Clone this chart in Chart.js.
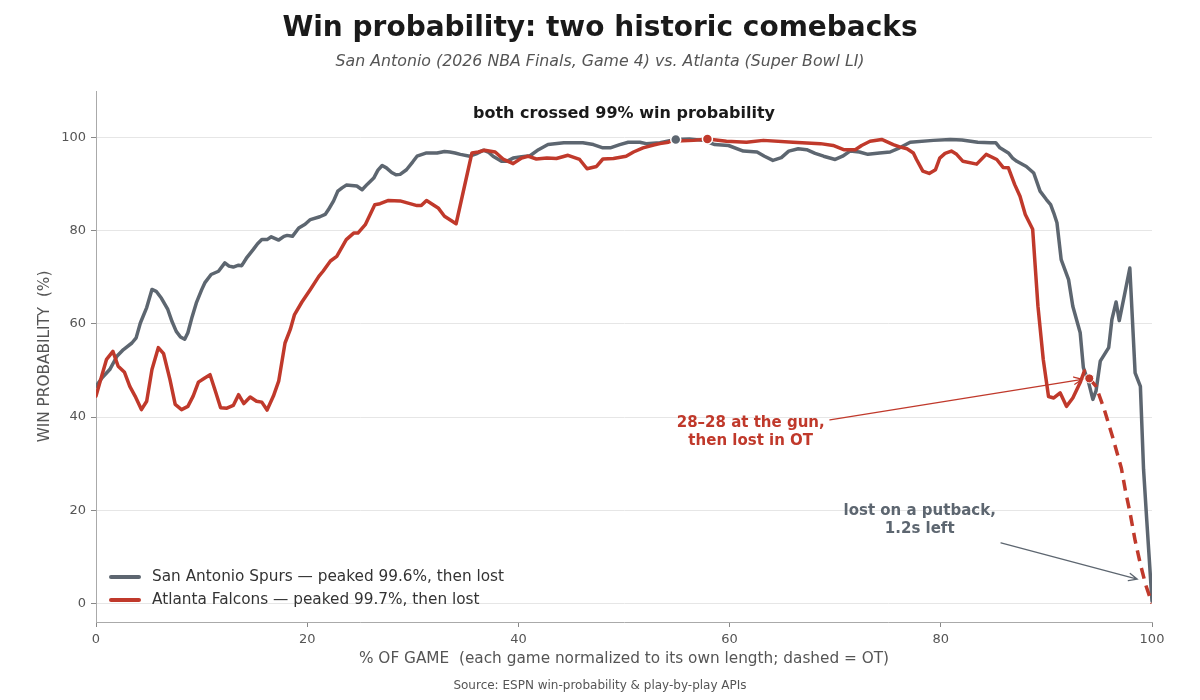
<!DOCTYPE html>
<html>
<head>
<meta charset="utf-8">
<script src="https://cdn.jsdelivr.net/npm/chart.js@4.4.1/dist/chart.umd.min.js"></script>
<style>
html,body{margin:0;padding:0;background:#ffffff;}
#wrap{width:1200px;height:700px;position:relative;}
</style>
</head>
<body>
<div id="wrap"><canvas id="c" width="1200" height="700"></canvas></div>
<script>
// ---------- DATA ----------
const spursLabel = "San Antonio Spurs \u2014 peaked 99.6%, then lost";
const falconsLabel = "Atlanta Falcons \u2014 peaked 99.7%, then lost";

const spursX = [0,0.6,1.3,2.0,2.6,3.4,3.8,4.2,4.8,5.3,5.7,6.2,6.8,7.2,7.6,8.0,8.4,8.7,9.1,9.5,10.0,10.3,10.9,11.6,12.2,12.6,13.0,13.5,13.8,14.3,14.9,15.3,15.7,16.2,16.6,17.3,17.8,18.1,18.6,19.2,19.8,20.3,21.2,21.7,22.0,22.5,22.9,23.3,23.7,24.2,24.7,25.2,25.7,26.3,26.7,27.1,27.5,28.0,28.4,28.8,29.4,30.0,30.4,31.3,32.3,33.0,33.5,34.0,34.5,35.4,36.0,36.7,37.2,37.6,38.4,38.9,39.5,40.3,41.1,41.9,42.8,44.3,46.1,47.1,48.0,48.7,49.6,50.4,51.5,52.1,53.4,54.9,56.2,57.5,58.6,59.9,61.3,62.6,63.3,64.1,64.9,65.6,66.5,67.3,68.1,68.9,70.0,70.7,71.4,72.3,73.1,74.2,75.2,76.1,77.1,79.3,80.9,82.0,83.5,84.7,85.2,85.6,86.4,86.8,87.2,88.1,88.8,89.4,90.0,90.4,90.7,91.0,91.4,92.1,92.5,93.2,93.5,94.0,94.4,94.7,95.1,95.9,96.2,96.6,96.9,97.4,97.9,98.4,98.9,99.2,99.5,100];
const spursY = [46.6,48.5,50.2,53.1,54.5,55.9,57.0,60.2,63.5,67.4,67.0,65.5,63.1,60.5,58.4,57.2,56.7,58.1,61.5,64.5,67.3,68.8,70.6,71.3,73.1,72.4,72.2,72.6,72.5,74.3,76.0,77.2,78.1,78.1,78.7,78.0,78.8,79.0,78.8,80.6,81.4,82.4,83.0,83.5,84.5,86.4,88.5,89.2,89.8,89.7,89.6,88.8,90.0,91.3,93.0,94.0,93.5,92.5,92.0,92.1,93.1,94.8,96.0,96.7,96.7,97.0,96.9,96.7,96.4,96.0,96.5,97.3,96.8,96.0,94.9,94.9,95.6,95.9,96.1,97.4,98.5,98.9,98.9,98.5,97.8,97.8,98.5,99.0,99.0,98.7,98.9,99.6,99.7,99.4,98.5,98.3,97.1,96.9,96.0,95.1,95.7,97.1,97.6,97.4,96.6,96.0,95.3,96.0,97.1,96.9,96.4,96.7,96.9,97.8,99.0,99.4,99.6,99.5,99.0,98.9,98.9,97.8,96.7,95.6,94.9,93.8,92.4,88.5,86.7,85.6,83.8,81.7,73.8,69.5,63.8,58.1,50.6,47.4,43.8,45.6,52.0,54.9,60.9,64.7,60.7,66.3,72.0,49.5,46.6,28.8,18.0,0.5];

const falconsX = [0,0.5,1.0,1.6,2.1,2.7,3.2,3.7,4.3,4.8,5.3,5.9,6.4,7.0,7.5,8.1,8.7,9.2,9.7,10.3,10.8,11.3,11.8,12.4,13.0,13.5,14.0,14.6,15.2,15.7,16.2,16.8,17.3,17.9,18.4,18.8,19.5,20.3,21.1,21.5,22.2,22.8,23.7,24.4,24.8,25.5,26.4,26.9,27.7,28.8,30.4,30.8,31.3,32.4,33.0,34.1,35.6,36.2,36.8,37.8,38.6,39.5,40.3,40.9,41.7,42.7,43.6,44.7,45.8,46.5,47.4,48.0,49.0,50.2,50.9,51.8,52.8,53.4,54.2,54.4,56.6,57.9,59.7,61.6,63.2,66.0,68.6,69.8,70.8,71.9,72.5,73.3,74.4,75.5,76.1,76.8,77.4,77.7,78.3,78.9,79.5,79.9,80.4,81.0,81.5,82.1,83.4,84.3,85.3,85.9,86.4,87.0,87.5,88.0,88.7,89.2,89.7,90.2,90.7,91.3,91.9,92.5,93.2,93.6];
const falconsY = [44.5,48.5,52.4,54.1,50.9,49.6,46.6,44.5,41.6,43.4,50.2,54.9,53.6,48.1,42.7,41.6,42.3,44.5,47.5,48.4,49.1,45.6,42.0,41.9,42.5,44.8,42.9,44.3,43.4,43.2,41.5,44.5,47.7,55.9,58.8,62.0,64.7,67.4,70.2,71.3,73.5,74.5,78.1,79.5,79.5,81.3,85.6,85.8,86.5,86.4,85.4,85.4,86.5,84.9,83.1,81.5,96.7,96.9,97.3,96.9,95.3,94.4,95.6,96.0,95.4,95.6,95.5,96.2,95.3,93.3,93.8,95.4,95.5,96.0,96.9,97.8,98.4,98.7,99.0,99.2,99.4,99.7,99.2,99.0,99.4,99.0,98.7,98.3,97.4,97.4,98.3,99.2,99.6,98.5,98.0,97.6,96.7,95.3,92.8,92.3,93.1,95.6,96.6,97.1,96.4,94.9,94.3,96.4,95.3,93.6,93.5,89.9,87.4,83.5,80.3,63.8,52.4,44.4,44.1,45.2,42.3,44.1,47.4,49.9];

// overtime (dashed)
const falconsOtX = [94.06,94.7,95.5,96.3,97.1,97.5,97.9,98.4,98.9,99.4,100];
const falconsOtY = [48.3,46.6,41.5,35.5,29.0,24.0,19.7,13.5,8.4,4.0,0.0];

// highlighted points
const peakX = [54.9, 57.9];
const peakY = [99.6, 99.7];
const tieX = [94.06];
const tieY = [48.3];

const xTicks = [0,20,40,60,80,100];
const yTicks = [0,20,40,60,80,100];

const titleText = "Win probability: two historic comebacks";
const subtitleText = "San Antonio (2026 NBA Finals, Game 4) vs. Atlanta (Super Bowl LI)";
const xTitle = "% OF GAME  (each game normalized to its own length; dashed = OT)";
const yTitle = "WIN PROBABILITY  (%)";
const sourceText = "Source: ESPN win-probability & play-by-play APIs";
const noteTop = "both crossed 99% win probability";
const noteTie = ["28\u201328 at the gun,", "then lost in OT"];
const notePutback = ["lost on a putback,", "1.2s left"];

// ---------- STYLE ----------
const FONT = '"DejaVu Sans", "Liberation Sans", sans-serif';
const GRAY = '#5d6670';
const RED = '#c0392b';

const pts = (xs, ys) => xs.map((x, i) => ({x: x, y: ys[i]}));

function arrow(ctx, x1, y1, x2, y2, color) {
  ctx.save();
  ctx.strokeStyle = color;
  ctx.lineWidth = 1.3;
  ctx.lineCap = 'round';
  ctx.beginPath();
  ctx.moveTo(x1, y1); ctx.lineTo(x2, y2);
  const a = Math.atan2(y2 - y1, x2 - x1);
  const L = 9, w = 0.42;
  ctx.moveTo(x2 - L * Math.cos(a - w), y2 - L * Math.sin(a - w));
  ctx.lineTo(x2, y2);
  ctx.lineTo(x2 - L * Math.cos(a + w), y2 - L * Math.sin(a + w));
  ctx.stroke();
  ctx.restore();
}

const textPlugin = {
  id: 'texts',
  afterDatasetsDraw(chart) {
    const ctx = chart.ctx;
    const xs = chart.scales.x, ys = chart.scales.y;
    const X = v => xs.getPixelForValue(v), Y = v => ys.getPixelForValue(v);
    ctx.save();
    ctx.textAlign = 'center';
    ctx.textBaseline = 'middle';
    // top note
    ctx.fillStyle = '#1a1a1a';
    ctx.font = 'bold 16px ' + FONT;
    ctx.fillText(noteTop, X(50), Y(105));
    // tie note
    ctx.fillStyle = RED;
    ctx.font = 'bold 15px ' + FONT;
    ctx.fillText(noteTie[0], X(62), Y(38.8));
    ctx.fillText(noteTie[1], X(62), Y(38.8) + 18);
    arrow(ctx, X(69.5), Y(39.4), X(93.4), Y(48.1), RED);
    // putback note
    ctx.fillStyle = GRAY;
    ctx.fillText(notePutback[0], X(78), Y(19.9));
    ctx.fillText(notePutback[1], X(78), Y(19.9) + 18);
    arrow(ctx, X(85.7), Y(13.0), X(98.6), Y(5.2), GRAY);
    ctx.restore();
  },
  afterDraw(chart) {
    const ctx = chart.ctx;
    ctx.save();
    ctx.textAlign = 'center';
    ctx.textBaseline = 'alphabetic';
    ctx.fillStyle = '#1a1a1a';
    ctx.font = 'bold 28px ' + FONT;
    ctx.fillText(titleText, 600, 36);
    ctx.fillStyle = '#555555';
    ctx.font = 'italic 15.8px ' + FONT;
    ctx.fillText(subtitleText, 600, 66);
    ctx.font = '12px ' + FONT;
    ctx.fillText(sourceText, 600, 689);
    // legend
    const items = [[spursLabel, GRAY], [falconsLabel, RED]];
    ctx.textAlign = 'left';
    ctx.textBaseline = 'middle';
    ctx.font = '15.3px ' + FONT;
    items.forEach((it, i) => {
      const y = 577 + i * 23;
      ctx.strokeStyle = it[1];
      ctx.lineWidth = 4;
      ctx.lineCap = 'round';
      ctx.beginPath(); ctx.moveTo(111, y); ctx.lineTo(139, y); ctx.stroke();
      ctx.fillStyle = '#333333';
      ctx.fillText(it[0], 152, y);
    });
    ctx.restore();
  }
};

new Chart(document.getElementById('c').getContext('2d'), {
  type: 'line',
  data: {
    datasets: [
      {label: 'peaks', data: pts(peakX, peakY), showLine: false,
       pointRadius: 5, pointBackgroundColor: [GRAY, RED], pointBorderColor: '#ffffff', pointBorderWidth: 1.5, order: 0},
      {label: 'tie', data: pts(tieX, tieY), showLine: false,
       pointRadius: 4.5, pointBackgroundColor: RED, pointBorderColor: '#ffffff', pointBorderWidth: 1, order: 0},
      {label: falconsLabel, data: pts(falconsX, falconsY), borderColor: RED, borderWidth: 3.5,
       pointRadius: 0, tension: 0, borderJoinStyle: 'round', borderCapStyle: 'round', fill: false, order: 1},
      {label: 'Falcons OT', data: pts(falconsOtX, falconsOtY), borderColor: RED, borderWidth: 3.5, borderDash: [11, 7],
       pointRadius: 0, tension: 0, borderJoinStyle: 'round', fill: false, order: 1},
      {label: spursLabel, data: pts(spursX, spursY), borderColor: GRAY, borderWidth: 3.5,
       pointRadius: 0, tension: 0, borderJoinStyle: 'round', borderCapStyle: 'round', fill: false, order: 2}
    ]
  },
  options: {
    responsive: false,
    animation: false,
    events: [],
    layout: {padding: {top: 91, right: 48, bottom: 0, left: 0}},
    plugins: {legend: {display: false}, tooltip: {enabled: false}, title: {display: false}},
    scales: {
      x: {
        type: 'linear', min: 0, max: 100,
        afterBuildTicks: s => { s.ticks = xTicks.map(v => ({value: v})); },
        afterFit: s => { s.height = 78; },
        grid: {drawOnChartArea: false, drawTicks: true, tickLength: 5, tickColor: '#888888', tickWidth: 1},
        border: {display: true, color: '#aaaaaa', width: 1},
        ticks: {padding: 5, color: '#555555', font: {family: FONT, size: 13}, maxRotation: 0, autoSkip: false},
        title: {display: true, text: xTitle, color: '#555555', font: {family: FONT, size: 15.3}, padding: {top: 0, bottom: 31.8}}
      },
      y: {
        type: 'linear', min: -4, max: 110,
        afterBuildTicks: s => { s.ticks = yTicks.map(v => ({value: v})); },
        afterFit: s => { s.width = 96; },
        grid: {drawOnChartArea: true, color: '#e6e6e6', lineWidth: 1, drawTicks: true, tickLength: 5, tickColor: '#888888', tickWidth: 1},
        border: {display: true, color: '#aaaaaa', width: 1},
        ticks: {padding: 5, color: '#555555', font: {family: FONT, size: 13}, autoSkip: false},
        title: {display: true, text: yTitle, color: '#555555', font: {family: FONT, size: 15.3}, padding: {top: 35.8, bottom: 0}}
      }
    }
  },
  plugins: [textPlugin]
});
</script>
</body>
</html>
